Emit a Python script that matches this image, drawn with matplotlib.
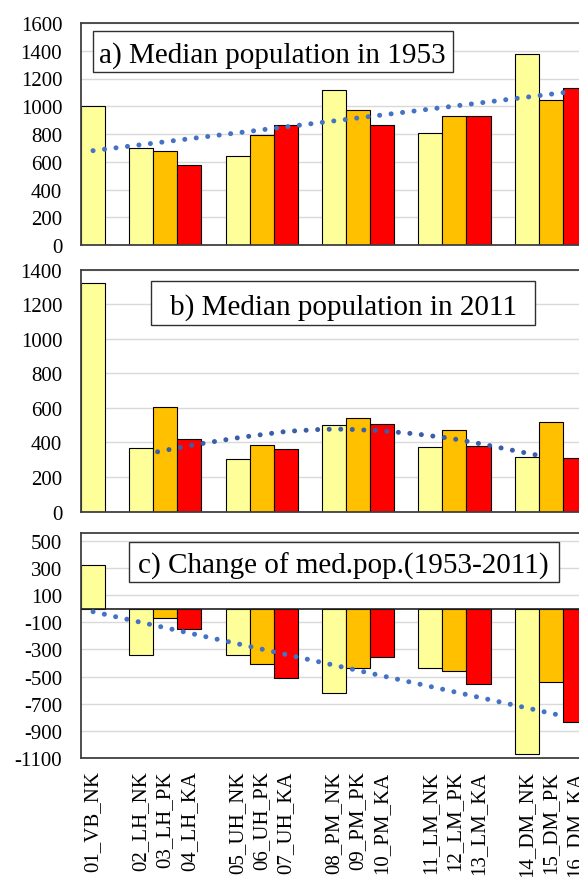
import numpy as np
import matplotlib
matplotlib.use("Agg")
from matplotlib import pyplot as plt
from matplotlib.patches import Rectangle

plt.rcParams['font.family'] = ['Liberation Serif', 'DejaVu Serif']
plt.rcParams['axes.unicode_minus'] = False

#________________________________data________________________________
labels = ['01_VB_NK', '02_LH_NK', '03_LH_PK', '04_LH_KA', '05_UH_NK', '06_UH_PK', '07_UH_KA',
          '08_PM_NK', '09_PM_PK', '10_PM_KA', '11_LM_NK', '12_LM_PK', '13_LM_KA',
          '14_DM_NK', '15_DM_PK', '16_DM_KA']
# slot of each category on the axis (one empty slot between the groups)
slots = [0, 2, 3, 4, 6, 7, 8, 10, 11, 12, 14, 15, 16, 18, 19, 20]

pop1953 = [1004, 699, 677, 577, 644, 793, 865, 1117, 975, 865, 805, 927, 930, 1377, 1047, 1132]
pop2011 = [1320, 366, 605, 421, 304, 387, 360, 502, 541, 508, 372, 470, 377, 314, 516, 308]
change = [321, -339, -72, -148, -344, -407, -514, -622, -437, -356, -437, -457, -556, -1074, -539, -833]

# trend lines as drawn in the picture (slot position, value)
trend_a_x = [0.0, 19.6]
trend_a_y = [680, 1100]
trend_b_x = [2.68, 4.13, 6.1, 8.03, 9.49, 10.46, 11.91, 13.36, 14.84, 16.29, 17.72, 18.69]
trend_b_y = [346, 385, 429, 464, 476, 477, 468, 450, 424, 387, 346, 320]
trend_c_x = [0.0, 19.63]
trend_c_y = [-22, -795]

titles = ['a) Median population in 1953', 'b) Median population in 2011',
          'c) Change of med.pop.(1953-2011)']

#________________________________styles________________________________
colour_of = {'NK': '#FFFF99', 'PK': '#FFC000', 'KA': '#FF0000'}
bar_colours = [colour_of[lab[-2:]] for lab in labels]
frame_col = '#404040'
grid_col = '#d9d9d9'

W, H = 579, 878
fig = plt.figure(figsize=(W / 100, H / 100), dpi=100)

def px_axes(left, top, right, bottom):
    return fig.add_axes([left / W, 1 - bottom / H, (right - left) / W, (bottom - top) / H])

def title_box(text, left, top, right, bottom, cx):
    # framed title, box given in picture pixels
    fig.add_artist(Rectangle((left / W, 1 - bottom / H), (right - left) / W, (bottom - top) / H,
                             transform=fig.transFigure, fc='white', ec='#303030', lw=1.0, zorder=5))
    fig.text(cx / W, 1 - (top + bottom) / 2 / H, text, ha='center', va='center_baseline',
             fontsize=21, zorder=6)

ax_a = px_axes(81, 24, 611, 246)
ax_b = px_axes(81, 270.6, 611, 512.6)
ax_c = px_axes(81, 534, 611, 759)

panels = [
    (ax_a, pop1953, (0, 1600), np.arange(0, 1601, 200), trend_a_x, trend_a_y, '#4472C4'),
    (ax_b, pop2011, (0, 1400), np.arange(0, 1401, 200), trend_b_x, trend_b_y, '#3b5ea8'),
    (ax_c, change, (-1100, 558), np.arange(-1100, 501, 200), trend_c_x, trend_c_y, '#4472C4'),
]

for ax, vals, ylim, yt, tx, ty, tcol in panels:
    ax.bar(slots, vals, width=1.0, color=bar_colours, edgecolor='black', linewidth=0.8, zorder=2)
    ax.plot(tx, ty, color=tcol, lw=3.6, linestyle=(0, (0.01, 2.3)),
            dash_capstyle='round', zorder=4)
    ax.set_xlim(-0.5, 21.5)
    ax.set_ylim(*ylim)
    ax.set_yticks(yt)
    ax.yaxis.grid(True, color=grid_col, lw=1.0)
    ax.set_axisbelow(True)
    ax.tick_params(axis='y', length=0, pad=13.5, labelsize=15)
    for sp in ax.spines.values():
        sp.set_color(frame_col)
        sp.set_linewidth(1.3)
    if ax is ax_c:
        ax.axhline(0, color='#202020', lw=1.2, zorder=3)
        ax.set_xticks(slots)
        ax.set_xticklabels(labels, rotation=90, va='top', ha='center')
        ax.tick_params(axis='x', length=0, pad=9, labelsize=15)
    else:
        ax.set_xticks([])

title_box(titles[0], 93, 32, 453, 73, 272.5)
title_box(titles[1], 151, 282, 535, 326, 344)
title_box(titles[2], 129, 543, 559, 583, 343)

fig.savefig('out.png', dpi=100)
